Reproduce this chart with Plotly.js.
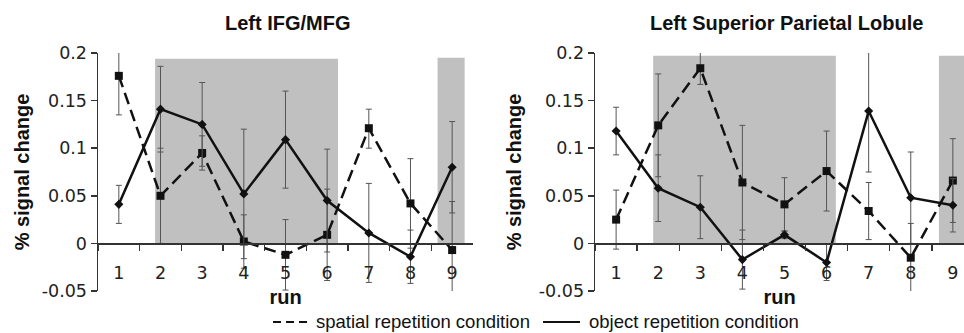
<!DOCTYPE html>
<html>
<head>
<meta charset="utf-8">
<script src="https://cdn.plot.ly/plotly-3.0.1.min.js"></script>
<style>html,body{margin:0;padding:0;background:#fff;}#chart{width:964px;height:333px;}</style>
</head>
<body>
<div id="chart"></div>
<script>
// ---- data ----
const runs = ['1','2','3','4','5','6','7','8','9'];
const yTickVals = [0.2, 0.15, 0.1, 0.05, 0, -0.05];
const yTickText = ['0.2', '0.15', '0.1', '0.05', '0', '-0.05'];

// Left IFG/MFG
const ifgSpatial = [0.176, 0.050, 0.095, 0.002, -0.012, 0.009, 0.121, 0.042, -0.007];
const ifgSpatialErrPlus = [0.028, 0.050, 0.018, 0.028, 0.037, 0.048, 0.020, 0.047, 0.051];
const ifgSpatialErrMinus = [0.041, 0.050, 0.018, 0.028, 0.037, 0.048, 0.021, 0.047, 0.050];
const ifgObject = [0.041, 0.141, 0.125, 0.052, 0.109, 0.045, 0.011, -0.014, 0.080];
const ifgObjectErr = [0.020, 0.045, 0.044, 0.068, 0.051, 0.054, 0.052, 0.028, 0.048];

// Left Superior Parietal Lobule
const splSpatial = [0.025, 0.124, 0.184, 0.064, 0.041, 0.076, 0.034, -0.015, 0.066];
const splSpatialErr = [0.031, 0.054, 0.017, 0.060, 0.028, 0.042, 0.030, 0.036, 0.044];
const splObject = [0.118, 0.058, 0.038, -0.017, 0.009, -0.020, 0.139, 0.048, 0.040];
const splObjectErr = [0.025, 0.035, 0.033, 0.031, 0.004, 0.019, 0.064, 0.048, 0.028];

const titles = ['Left IFG/MFG', 'Left Superior Parietal Lobule'];
const legendNames = ['spatial repetition condition', 'object repetition condition'];
const xTitle = 'run';
const yTitle = '% signal change';

// ---- styles ----
const lineCol = '#111';
const errStyle = {thickness: 1, width: 3, color: '#555'};
const dashPat = '12px,6px';

function spatialTrace(y, plus, minus, xa, ya) {
  return {
    x: runs, y: y, xaxis: xa, yaxis: ya, type: 'scatter', mode: 'lines+markers',
    name: legendNames[0],
    line: {color: lineCol, width: 2.5, dash: dashPat},
    marker: {symbol: 'square', size: 8, color: lineCol},
    error_y: Object.assign({type: 'data', array: plus, arrayminus: minus, symmetric: false}, errStyle),
    showlegend: false, cliponaxis: false, hoverinfo: 'skip'
  };
}
function objectTrace(y, err, xa, ya) {
  return {
    x: runs, y: y, xaxis: xa, yaxis: ya, type: 'scatter', mode: 'lines+markers',
    name: legendNames[1],
    line: {color: lineCol, width: 2.5},
    marker: {symbol: 'diamond', size: 7, color: lineCol},
    error_y: Object.assign({type: 'data', array: err}, errStyle),
    showlegend: false, cliponaxis: false, hoverinfo: 'skip'
  };
}

const traces = [
  spatialTrace(ifgSpatial, ifgSpatialErrPlus, ifgSpatialErrMinus, 'x', 'y'),
  objectTrace(ifgObject, ifgObjectErr, 'x', 'y'),
  spatialTrace(splSpatial, splSpatialErr, splSpatialErr, 'x2', 'y2'),
  objectTrace(splObject, splObjectErr, 'x2', 'y2')
];

const tickFont = {family: 'DejaVu Sans', size: 17.5, color: '#222'};
const boldFont = {family: 'Liberation Sans, Arial, sans-serif', size: 20, color: '#111', weight: 'bold'};
const legendFont = {family: 'Liberation Sans, Arial, sans-serif', size: 18.5, color: '#111'};

function xAxis(domain, range) {
  return {
    type: 'category', domain: domain, range: range, anchor: 'free', position: 0.2,
    showline: true, linecolor: '#333', linewidth: 1.5, showgrid: false, zeroline: false,
    ticks: 'outside', tickson: 'boundaries', ticklen: 6, tickcolor: '#333', tickwidth: 1.5,
    tickfont: tickFont, ticklabelstandoff: 13,
    title: {text: '<b>' + xTitle + '</b>', font: boldFont, standoff: 8}
  };
}
function yAxis(anchor, standoff) {
  return {
    anchor: anchor, domain: [0, 1], range: [-0.05, 0.2],
    showline: true, linecolor: '#333', linewidth: 1.5, showgrid: false, zeroline: false,
    ticks: 'outside', ticklen: 6, tickcolor: '#333', tickwidth: 1.5,
    tickvals: yTickVals, ticktext: yTickText, tickfont: tickFont,
    title: {text: '<b>' + yTitle + '</b>', font: boldFont, standoff: standoff}
  };
}

const shadeCol = 'rgb(192,192,192)';
function rect(xref, yref, x0, x1, y1) {
  return {type: 'rect', xref: xref, yref: yref, x0: x0, x1: x1, y0: 0, y1: y1,
          fillcolor: shadeCol, line: {width: 0}, layer: 'below'};
}
function legendLine(x0, x1, dash) {
  return {type: 'line', xref: 'paper', yref: 'paper', x0: x0, x1: x1, y0: -0.13, y1: -0.13,
          line: {color: lineCol, width: 2, dash: dash}};
}
function legendText(x, text) {
  return {text: text, xref: 'paper', yref: 'paper', x: x, y: -0.1765, xanchor: 'left', yanchor: 'bottom',
          showarrow: false, font: legendFont, borderpad: 0};
}

const layout = {
  width: 964, height: 333,
  margin: {l: 98, r: 0, t: 53, b: 42},
  paper_bgcolor: '#fff', plot_bgcolor: 'rgba(0,0,0,0)',
  showlegend: false,
  xaxis: xAxis([0, 0.433], [-0.5, 8.5]),
  yaxis: yAxis('x', 6),
  xaxis2: xAxis([0.574, 1], [-0.5, 8.265]),
  yaxis2: yAxis('x2', 12),
  shapes: [
    rect('x', 'y', 0.87, 5.26, 0.194),
    rect('x', 'y', 7.65, 8.3, 0.195),
    rect('x2', 'y2', 0.88, 5.22, 0.197),
    rect('x2', 'y2', 7.67, 8.5, 0.197),
    legendLine(0.2021, 0.2448, '8px,5px'),
    legendLine(0.5139, 0.5566, 'solid')
  ],
  annotations: [
    {text: '<b>' + titles[0] + '</b>', xref: 'paper', yref: 'paper', x: 0.2194, y: 1.126,
     xanchor: 'center', yanchor: 'middle', showarrow: false, font: boldFont},
    {text: '<b>' + titles[1] + '</b>', xref: 'paper', yref: 'paper', x: 0.7945, y: 1.126,
     xanchor: 'center', yanchor: 'middle', showarrow: false, font: boldFont},
    legendText(0.250, legendNames[0]),
    legendText(0.566, legendNames[1])
  ]
};

Plotly.newPlot('chart', traces, layout, {staticPlot: true, displayModeBar: false});
</script>
</body>
</html>
